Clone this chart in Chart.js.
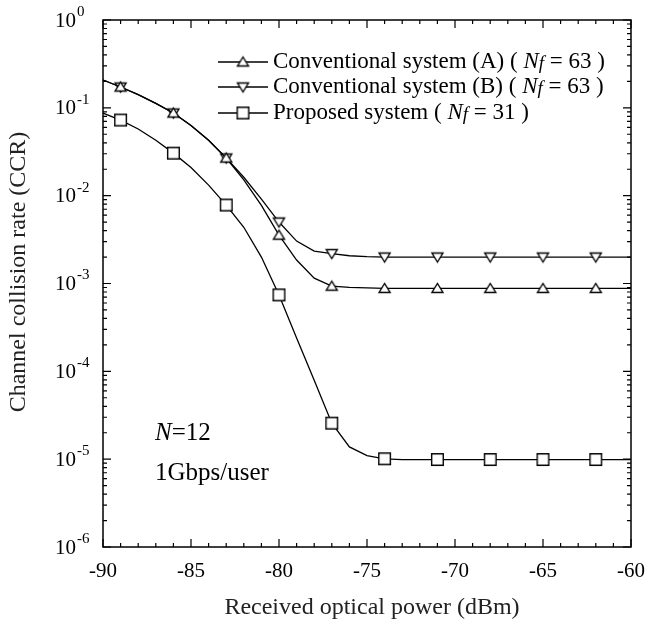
<!DOCTYPE html>
<html><head><meta charset="utf-8">
<script src="https://cdn.jsdelivr.net/npm/chart.js@4/dist/chart.umd.min.js"></script>
<style>html,body{margin:0;padding:0;background:#fff}#wrap{width:646px;height:632px;position:relative}</style>
</head><body><div id="wrap"><canvas id="c"></canvas></div>
<script>
// ---- data ----
const power = [-90,-89,-88,-87,-86,-85,-84,-83,-82,-81,-80,-79,-78,-77,-76,-75,-74,-73,-72,-71,-70,-69,-68,-67,-66,-65,-64,-63,-62,-61,-60];
const ccrA = [0.2075,0.1726,0.1413,0.1122,0.0873,0.0631,0.0427,0.0268,0.0151,0.00776,0.00355,0.00185,0.00115,0.000933,0.000902,0.000891,0.00088,0.00088,0.00088,0.00088,0.00088,0.00088,0.00088,0.00088,0.00088,0.00088,0.00088,0.00088,0.00088,0.00088,0.00088];
const ccrB = [0.2075,0.1726,0.1413,0.1122,0.0873,0.0631,0.0427,0.0268,0.0162,0.00912,0.00501,0.00304,0.00234,0.00219,0.00207,0.00202,0.0020,0.0020,0.0020,0.0020,0.0020,0.0020,0.0020,0.0020,0.0020,0.0020,0.0020,0.0020,0.0020,0.0020,0.0020];
const ccrProposed = [0.0871,0.0726,0.0575,0.0427,0.0305,0.0209,0.0132,0.00782,0.00437,0.0020,0.000741,0.00024,0.0000794,0.0000257,0.0000138,0.000011,0.0000101,0.0000099,0.0000099,0.0000099,0.0000099,0.0000099,0.0000099,0.0000099,0.0000099,0.0000099,0.0000099,0.0000099,0.0000099,0.0000099,0.0000099];
const markerPower = [-89,-86,-83,-80,-77,-74,-71,-68,-65,-62];
const xTickValues = [-90,-85,-80,-75,-70,-65,-60];
const yExponents = [0,-1,-2,-3,-4,-5,-6];
const seriesNames = ['Conventional system (A)','Conventional system (B)','Proposed system'];
const seriesNf = ['63','63','31'];
const xTitle = 'Received optical power (dBm)';
const yTitle = 'Channel collision rate (CCR)';

const FONT = '"Liberation Serif", "Times New Roman", serif';

// marker images, centred on their bounding box
function markerImg(kind){
  const c = document.createElement('canvas');
  const W = 15, H = 15; c.width = W; c.height = H;
  const g = c.getContext('2d');
  g.fillStyle = '#fff'; g.strokeStyle = '#000'; g.lineWidth = 1.4;
  g.beginPath();
  if(kind==='up'){ g.moveTo(7.5,2.5); g.lineTo(13,11.5); g.lineTo(2,11.5); g.closePath(); }
  else if(kind==='down'){ g.moveTo(2,3.5); g.lineTo(13,3.5); g.lineTo(7.5,12.5); g.closePath(); }
  else { g.rect(1.7,1.7,11.6,11.6); }
  g.fill(); g.stroke();
  return c;
}
const markers = [markerImg('up'), markerImg('down'), markerImg('sq')];
const seriesData = [ccrA, ccrB, ccrProposed];

function mk(i){
  return {
    label: seriesNames[i],
    data: power.map((p,k)=>({x:p, y:seriesData[i][k]})),
    borderColor:'#000', borderWidth:1.3, tension:0,
    pointStyle: markers[i],
    pointRadius: c => markerPower.includes(power[c.dataIndex]) ? 7 : 0,
    pointHoverRadius: c => markerPower.includes(power[c.dataIndex]) ? 7 : 0,
    clip:false
  };
}

const frame = {
  id:'frame',
  afterDraw(chart){
    const {ctx, chartArea:a, scales:{x,y}} = chart;
    ctx.save();
    ctx.strokeStyle='#000'; ctx.lineWidth=1.5;
    ctx.strokeRect(a.left, a.top, a.right-a.left, a.bottom-a.top);
    ctx.lineWidth=1.2;
    ctx.beginPath();
    for(let v=-90; v<=-60; v++){
      const px = x.getPixelForValue(v);
      const L = (v%5===0)?8:4;
      ctx.moveTo(px,a.bottom); ctx.lineTo(px,a.bottom-L);
      ctx.moveTo(px,a.top); ctx.lineTo(px,a.top+L);
    }
    for(const e of yExponents){
      for(let m=1;m<=9;m++){
        if(e===0 && m>1) break;
        const v = m*Math.pow(10,e);
        const py = y.getPixelForValue(v);
        const L = (m===1)?8:4;
        ctx.moveTo(a.left,py); ctx.lineTo(a.left+L,py);
        ctx.moveTo(a.right,py); ctx.lineTo(a.right-L,py);
      }
    }
    ctx.stroke();
    // tick labels
    ctx.fillStyle='#000';
    ctx.font='21px '+FONT; ctx.textAlign='center'; ctx.textBaseline='middle';
    for(const v of xTickValues){ ctx.fillText(String(v), x.getPixelForValue(v), 571); }
    for(const e of yExponents){
      const py = y.getPixelForValue(Math.pow(10,e));
      ctx.font='21px '+FONT; ctx.textAlign='right'; ctx.textBaseline='middle';
      ctx.fillText('10', 76, py+1);
      ctx.font='15px '+FONT; ctx.textAlign='left';
      ctx.fillText(String(e), 77, py-8);
    }
    // titles
    ctx.fillStyle='#222';
    ctx.font='24px '+FONT; ctx.textAlign='center'; ctx.textBaseline='middle';
    ctx.fillText(xTitle, 372, 608);
    ctx.save(); ctx.translate(19, 272); ctx.rotate(-Math.PI/2); ctx.fillText(yTitle,0,0); ctx.restore();
    // legend
    ctx.fillStyle='#000'; ctx.textAlign='left'; ctx.textBaseline='middle';
    const rows=[62,87,113];
    for(let i=0;i<3;i++){
      const ry=rows[i];
      ctx.strokeStyle='#000'; ctx.lineWidth=1.3;
      ctx.beginPath(); ctx.moveTo(218,ry); ctx.lineTo(268,ry); ctx.stroke();
      const m = markers[i];
      ctx.drawImage(m, 243-m.width/2, ry-m.height/2);
      ctx.fillStyle='#000';
      let tx=273;
      const parts=[[seriesNames[i]+' ( ','n',0],['N','i',0],['f','i',2],[' = '+seriesNf[i]+' )','n',0]];
      for(const [t,s,off] of parts){
        ctx.font=(s==='i'?'italic ':'')+(off?'19px ':'23px ')+FONT;
        ctx.fillText(t,tx,ry+off); tx+=ctx.measureText(t).width;
      }
    }
    // annotations
    let ax=155;
    ctx.font='italic 25px '+FONT; ctx.fillText('N',ax,433); ax+=ctx.measureText('N').width;
    ctx.font='25px '+FONT; ctx.fillText('=12',ax,433);
    ctx.fillText('1Gbps/user',155,473);
    ctx.restore();
  }
};

new Chart(document.getElementById('c'),{
  type:'line',
  data:{datasets:[mk(0),mk(1),mk(2)]},
  options:{
    responsive:true, maintainAspectRatio:false, animation:false,
    layout:{padding:{left:103,top:20,right:15,bottom:85}},
    plugins:{legend:{display:false},tooltip:{enabled:false}},
    scales:{
      x:{type:'linear',min:-90,max:-60,display:false},
      y:{type:'logarithmic',min:1e-6,max:1,display:false}
    }
  },
  plugins:[frame]
});
</script></body></html>
